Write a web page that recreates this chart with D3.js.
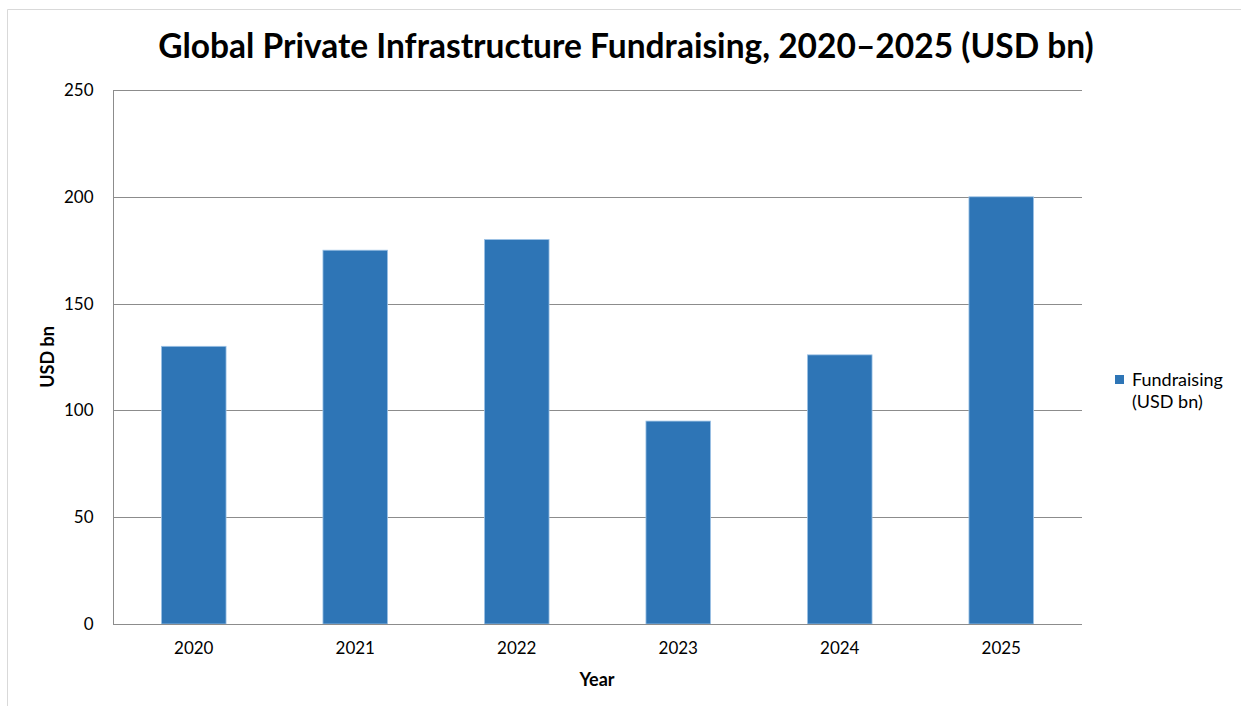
<!DOCTYPE html>
<html>
<head>
<meta charset="utf-8">
<script src="https://cdn.jsdelivr.net/npm/d3@7"></script>
<style>
  html, body { margin: 0; padding: 0; background: #fff; }
  svg { display: block; font-family: Lato, "Open Sans", sans-serif; }
</style>
</head>
<body>
<svg id="chart" width="1241" height="706"></svg>
<script>
// Fundraising by year, USD bn
const years = ["2020", "2021", "2022", "2023", "2024", "2025"];
const fundraising = [130, 175, 180, 95, 126, 200];
const yTicks = [0, 50, 100, 150, 200, 250];
const seriesName = ["Fundraising", "(USD bn)"];

const svg = d3.select("#chart");
const W = 1241, H = 706;
const plot = { left: 113, right: 1082, top: 90, bottom: 624 };

// outer frame (top and left edges)
svg.append("line").attr("x1", 7.5).attr("x2", W).attr("y1", 9.5).attr("y2", 9.5)
  .attr("stroke", "#d9d9d9").attr("stroke-width", 1);
svg.append("line").attr("x1", 7.5).attr("x2", 7.5).attr("y1", 9.5).attr("y2", H)
  .attr("stroke", "#d9d9d9").attr("stroke-width", 1);

const x = d3.scaleBand().domain(years).range([plot.left, plot.right]).paddingInner(0.6).paddingOuter(0.3);
const y = d3.scaleLinear().domain([0, 250]).range([plot.bottom, plot.top]);

// horizontal gridlines
svg.append("g").selectAll("line").data(yTicks).join("line")
  .attr("x1", plot.left).attr("x2", plot.right)
  .attr("y1", d => Math.round(y(d)) + 0.5).attr("y2", d => Math.round(y(d)) + 0.5)
  .attr("stroke", "#8c8c8c").attr("stroke-width", 1);

// bars
svg.append("g").selectAll("rect").data(fundraising).join("rect")
  .attr("x", (d, i) => x(years[i]))
  .attr("width", x.bandwidth())
  .attr("y", d => y(d))
  .attr("height", d => y(0) - y(d))
  .attr("fill", "#2e75b6")
  .attr("stroke", "#9dc3e6").attr("stroke-width", 0.8);

// y axis
const yAxis = svg.append("g").attr("transform", `translate(${plot.left + 0.5},0)`)
  .call(d3.axisLeft(y).tickValues(yTicks).tickSize(0).tickPadding(20));
yAxis.select(".domain").attr("stroke", "#8c8c8c").attr("d", `M0,${plot.top}V${plot.bottom}`);
yAxis.selectAll("text").attr("font-size", 17).attr("fill", "#000").attr("font-family", "Lato, sans-serif");

// x axis
const xAxis = svg.append("g").attr("transform", `translate(0,${plot.bottom + 0.5})`)
  .call(d3.axisBottom(x).tickSize(0).tickPadding(17));
xAxis.select(".domain").attr("stroke", "#8c8c8c").attr("d", `M${plot.left},0H${plot.right}`);
xAxis.selectAll("text").attr("font-size", 17).attr("fill", "#000").attr("font-family", "Lato, sans-serif");

// title
svg.append("text").attr("x", 626).attr("y", 58).attr("text-anchor", "middle")
  .attr("font-size", 33.5).attr("font-weight", "bold").attr("fill", "#000")
  .text("Global Private Infrastructure Fundraising, 2020\u20132025 (USD bn)");

// axis titles
svg.append("text").attr("transform", "translate(54,357) rotate(-90)")
  .attr("text-anchor", "middle").attr("font-size", 18).attr("font-weight", "bold")
  .text("USD bn");
svg.append("text").attr("x", 597).attr("y", 686).attr("text-anchor", "middle")
  .attr("font-size", 18).attr("font-weight", "bold").text("Year");

// legend
const lg = svg.append("g");
lg.append("rect").attr("x", 1115).attr("y", 375).attr("width", 9).attr("height", 9).attr("fill", "#2e75b6");
lg.append("text").attr("x", 1132).attr("y", 386).attr("font-size", 18)
  .selectAll("tspan").data(seriesName).join("tspan")
  .attr("x", 1132).attr("dy", (d, i) => i === 0 ? 0 : 22).text(d => d);
</script>
</body>
</html>
